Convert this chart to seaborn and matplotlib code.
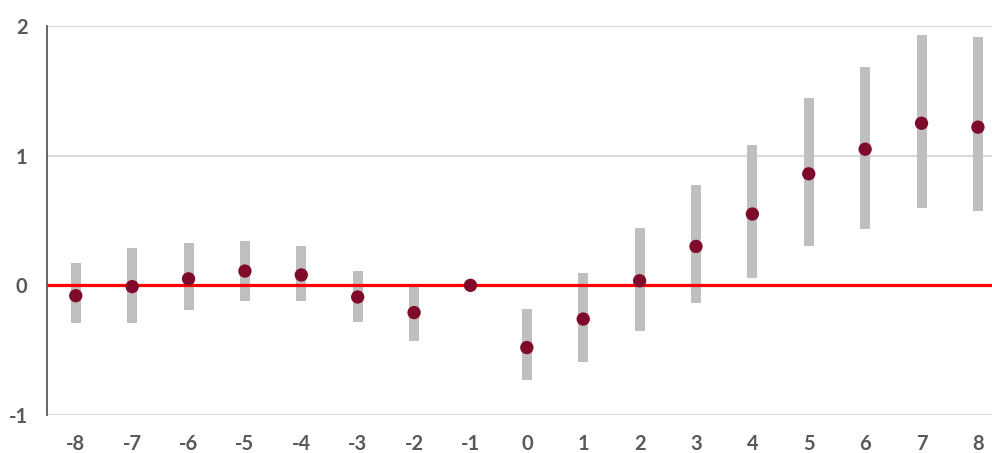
import matplotlib
matplotlib.use("Agg")
import matplotlib.pyplot as plt
import seaborn as sns
import pandas as pd

periods = [-8, -7, -6, -5, -4, -3, -2, -1, 0, 1, 2, 3, 4, 5, 6, 7, 8]
estimate = [-0.08, -0.01, 0.05, 0.11, 0.08, -0.09, -0.21, 0.0, -0.48, -0.26, 0.035, 0.30, 0.55, 0.86, 1.05, 1.25, 1.22]
ci_low = [-0.29, -0.29, -0.19, -0.12, -0.12, -0.28, -0.43, 0.0, -0.73, -0.59, -0.35, -0.135, 0.055, 0.30, 0.435, 0.595, 0.57]
ci_high = [0.17, 0.285, 0.33, 0.345, 0.30, 0.11, 0.01, 0.0, -0.185, 0.095, 0.445, 0.77, 1.08, 1.445, 1.68, 1.93, 1.915]
yticks = [-1, 0, 1, 2]

df = pd.DataFrame({"period": periods, "est": estimate, "lo": ci_low, "hi": ci_high})

sns.set_theme(style="white")
plt.rcParams["font.family"] = ["Lato", "DejaVu Sans"]

fig = plt.figure(figsize=(9.92, 4.53), dpi=100)
ax = fig.add_axes([0.0474, 0.0839, 0.9526, 0.8587])

for y in yticks:
    ax.axhline(y, color="#d9d9d9", lw=1.5, zorder=0)

ax.vlines(df["period"], df["lo"], df["hi"], color="#bfbfbf", lw=7.2, zorder=1)
ax.axhline(0, color="#ff0000", lw=2.3, zorder=2)
sns.scatterplot(data=df, x="period", y="est", ax=ax, s=92, color="#7f0a2a",
                edgecolor="none", zorder=3, legend=False)

ax.set_xlim(-8.51, 8.25)
ax.set_ylim(-1, 2)
ax.set_xticks(periods)
ax.set_xticklabels([str(p) for p in periods])
ax.set_yticks(yticks)
ax.set_yticklabels([str(t) for t in yticks])
ax.set_xlabel("")
ax.set_ylabel("")

for s in ["top", "right", "bottom"]:
    ax.spines[s].set_visible(False)
ax.spines["left"].set_color("#595959")
ax.spines["left"].set_linewidth(1.3)

ax.tick_params(axis="both", length=0, colors="#595959", labelsize=14.5)
ax.tick_params(axis="x", pad=14)
ax.tick_params(axis="y", pad=14)
for lab in ax.get_xticklabels() + ax.get_yticklabels():
    lab.set_fontweight("bold")
    lab.set_color("#595959")

fig.savefig("out.png", dpi=100)
